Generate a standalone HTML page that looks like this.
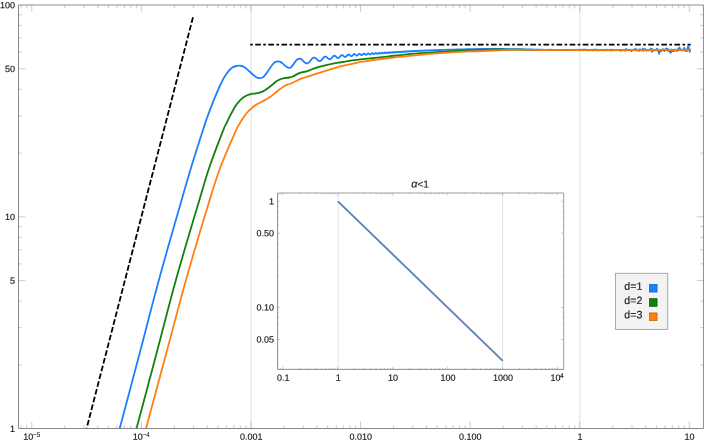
<!DOCTYPE html>
<html><head><meta charset="utf-8"><title>plot</title>
<style>html,body{margin:0;padding:0;background:#fff}body{width:706px;height:442px;overflow:hidden;font-family:"Liberation Sans",sans-serif}</style>
</head><body>
<svg width="706" height="442" viewBox="0 0 706 442" style="display:block;will-change:transform">
<rect width="706" height="442" fill="#fff"/>
<defs><linearGradient id="og" gradientUnits="userSpaceOnUse" x1="400" y1="0" x2="520" y2="0"><stop offset="0" stop-color="#ff8010"/><stop offset="1" stop-color="#e87d0c"/></linearGradient><clipPath id="cm"><rect x="18.50" y="5.00" width="684.95" height="423.50"/></clipPath></defs>
<line x1="251.15" y1="5.00" x2="251.15" y2="428.50" stroke="#d9d9d9" stroke-width="0.8"/>
<line x1="579.85" y1="5.00" x2="579.85" y2="428.50" stroke="#d9d9d9" stroke-width="0.8"/>
<g clip-path="url(#cm)" fill="none" stroke-linejoin="round">
<path d="M119.70 428.50 C122.95 416.25 132.67 379.75 139.20 355.00 C145.73 330.25 152.07 305.00 158.90 280.00 C165.73 255.00 174.83 223.75 180.20 205.00 C185.57 186.25 187.30 180.00 191.10 167.50 C194.90 155.00 200.35 138.27 203.00 130.00 C205.65 121.73 205.48 122.18 207.00 117.90 C208.52 113.62 210.47 108.47 212.10 104.30 C213.73 100.13 215.52 95.95 216.80 92.90 C218.08 89.85 218.73 88.30 219.80 86.00 C220.87 83.70 222.05 81.17 223.20 79.10 C224.35 77.03 225.55 75.22 226.70 73.60 C227.85 71.98 228.97 70.52 230.10 69.40 C231.23 68.28 232.35 67.48 233.50 66.90 C234.65 66.32 236.07 66.10 237.00 65.90 C237.93 65.70 238.25 65.65 239.10 65.70 C239.95 65.75 241.02 65.80 242.10 66.20 C243.18 66.60 244.45 67.30 245.60 68.10 C246.75 68.90 247.85 69.97 249.00 71.00 C250.15 72.03 251.35 73.32 252.50 74.30 C253.65 75.28 255.05 76.33 255.90 76.90 C256.75 77.47 256.88 77.48 257.60 77.70 C258.32 77.92 259.27 78.30 260.20 78.20 C261.13 78.10 262.20 77.87 263.20 77.10 C264.20 76.33 265.20 74.90 266.20 73.60 C267.20 72.30 268.20 70.73 269.20 69.30 C270.20 67.87 271.20 66.20 272.20 65.00 C273.20 63.80 274.23 62.72 275.20 62.10 C276.17 61.48 277.07 61.30 278.00 61.30 C278.93 61.30 279.83 61.55 280.80 62.10 C281.77 62.65 282.80 63.78 283.80 64.60 C284.80 65.42 285.90 66.47 286.80 67.00 C287.70 67.53 288.42 67.83 289.20 67.80 C289.98 67.77 290.68 67.55 291.50 66.80 C292.32 66.05 293.23 64.45 294.10 63.30 C294.97 62.15 295.83 60.68 296.70 59.90 C297.57 59.12 298.87 58.82 299.30 58.60 L299.50 58.59 L299.70 58.59 L299.90 58.62 L300.10 58.66 L300.30 58.71 L300.50 58.79 L300.70 58.88 L300.90 58.99 L301.10 59.11 L301.30 59.24 L301.50 59.39 L301.70 59.55 L301.90 59.72 L302.10 59.89 L302.30 60.08 L302.50 60.27 L302.70 60.47 L302.90 60.68 L303.10 60.88 L303.30 61.09 L303.50 61.29 L303.70 61.49 L303.90 61.69 L304.10 61.89 L304.30 62.08 L304.50 62.26 L304.70 62.43 L304.90 62.59 L305.10 62.73 L305.30 62.87 L305.50 62.99 L305.70 63.09 L305.90 63.18 L306.10 63.25 L306.30 63.30 L306.50 63.34 L306.70 63.36 L306.90 63.35 L307.10 63.33 L307.30 63.29 L307.50 63.23 L307.70 63.15 L307.90 63.06 L308.10 62.94 L308.30 62.81 L308.50 62.66 L308.70 62.50 L308.90 62.32 L309.10 62.13 L309.30 61.93 L309.50 61.71 L309.70 61.49 L309.90 61.26 L310.10 61.02 L310.30 60.78 L310.50 60.54 L310.70 60.29 L310.90 60.05 L311.10 59.81 L311.30 59.57 L311.50 59.35 L311.70 59.13 L311.90 58.92 L312.10 58.72 L312.30 58.53 L312.50 58.36 L312.70 58.21 L312.90 58.07 L313.10 57.95 L313.30 57.85 L313.50 57.77 L313.70 57.72 L313.90 57.68 L314.10 57.66 L314.30 57.67 L314.50 57.70 L314.70 57.75 L314.90 57.81 L315.10 57.90 L315.30 58.01 L315.50 58.13 L315.70 58.27 L315.90 58.43 L316.10 58.59 L316.30 58.77 L316.50 58.95 L316.70 59.14 L316.90 59.34 L317.10 59.53 L317.30 59.73 L317.50 59.92 L317.70 60.10 L317.90 60.28 L318.10 60.44 L318.30 60.59 L318.50 60.72 L318.70 60.84 L318.90 60.94 L319.10 61.01 L319.30 61.07 L319.50 61.10 L319.70 61.10 L319.90 61.08 L320.10 61.04 L320.30 60.97 L320.50 60.87 L320.70 60.75 L320.90 60.61 L321.10 60.45 L321.30 60.26 L321.50 60.06 L321.70 59.85 L321.90 59.62 L322.10 59.38 L322.30 59.13 L322.50 58.88 L322.70 58.63 L322.90 58.38 L323.10 58.14 L323.30 57.91 L323.50 57.68 L323.70 57.47 L323.90 57.28 L324.10 57.11 L324.30 56.96 L324.50 56.83 L324.70 56.73 L324.90 56.66 L325.10 56.61 L325.30 56.59 L325.50 56.60 L325.70 56.64 L325.90 56.70 L326.10 56.78 L326.30 56.89 L326.50 57.02 L326.70 57.17 L326.90 57.33 L327.10 57.50 L327.30 57.69 L327.50 57.87 L327.70 58.06 L327.90 58.25 L328.10 58.43 L328.30 58.60 L328.50 58.75 L328.70 58.89 L328.90 59.01 L329.10 59.11 L329.30 59.18 L329.50 59.23 L329.70 59.24 L329.90 59.23 L330.10 59.19 L330.30 59.12 L330.50 59.02 L330.70 58.89 L330.90 58.74 L331.10 58.57 L331.30 58.37 L331.50 58.16 L331.70 57.94 L331.90 57.70 L332.10 57.46 L332.30 57.22 L332.50 56.99 L332.70 56.76 L332.90 56.55 L333.10 56.35 L333.30 56.18 L333.50 56.02 L333.70 55.90 L333.90 55.81 L334.10 55.75 L334.30 55.72 L334.50 55.72 L334.70 55.76 L334.90 55.83 L335.10 55.93 L335.30 56.05 L335.50 56.20 L335.70 56.37 L335.90 56.55 L336.10 56.74 L336.30 56.94 L336.50 57.14 L336.70 57.32 L336.90 57.50 L337.10 57.66 L337.30 57.79 L337.50 57.90 L337.70 57.98 L337.90 58.03 L338.10 58.04 L338.30 58.01 L338.50 57.95 L338.70 57.85 L338.90 57.73 L339.10 57.57 L339.30 57.38 L339.50 57.18 L339.70 56.95 L339.90 56.72 L340.10 56.48 L340.30 56.25 L340.50 56.02 L340.70 55.81 L340.90 55.62 L341.10 55.45 L341.30 55.31 L341.50 55.21 L341.70 55.14 L341.90 55.11 L342.10 55.12 L342.30 55.16 L342.50 55.24 L342.70 55.34 L342.90 55.48 L343.10 55.64 L343.30 55.81 L343.50 56.00 L343.70 56.18 L343.90 56.36 L344.10 56.53 L344.30 56.69 L344.50 56.81 L344.70 56.91 L344.90 56.97 L345.10 57.00 L345.30 56.99 L345.50 56.93 L345.70 56.84 L345.90 56.71 L346.10 56.54 L346.30 56.35 L346.50 56.14 L346.70 55.91 L346.90 55.68 L347.10 55.45 L347.30 55.22 L347.50 55.02 L347.70 54.84 L347.90 54.70 L348.10 54.59 L348.30 54.52 L348.50 54.49 L348.70 54.51 L348.90 54.57 L349.10 54.67 L349.30 54.80 L349.50 54.96 L349.70 55.14 L349.90 55.33 L350.10 55.52 L350.30 55.70 L350.50 55.87 L350.70 56.01 L350.90 56.11 L351.10 56.18 L351.30 56.21 L351.50 56.18 L351.70 56.12 L351.90 56.00 L352.10 55.85 L352.30 55.67 L352.50 55.46 L352.70 55.24 L352.90 55.00 L353.10 54.78 L353.30 54.57 L353.50 54.38 L353.70 54.23 L353.90 54.12 L354.10 54.06 L354.30 54.05 L354.50 54.09 L354.70 54.17 L354.90 54.30 L355.10 54.45 L355.30 54.64 L355.50 54.84 L355.70 55.03 L355.90 55.22 L356.10 55.39 L356.30 55.52 L356.50 55.61 L356.70 55.65 L356.90 55.64 L357.10 55.58 L357.30 55.47 L357.50 55.31 L357.70 55.12 L357.90 54.91 L358.10 54.69 L358.30 54.47 L358.50 54.26 L358.70 54.09 L358.90 53.94 L359.10 53.85 L359.30 53.80 L359.50 53.81 L359.70 53.86 L359.90 53.97 L360.10 54.11 L360.30 54.28 L360.50 54.46 L360.70 54.64 L360.90 54.81 L361.10 54.96 L361.30 55.07 L361.50 55.14 L361.70 55.15 L361.90 55.11 L362.10 55.02 L362.30 54.89 L362.50 54.72 L362.70 54.53 L362.90 54.32 L363.10 54.12 L363.30 53.94 L363.50 53.79 L363.70 53.68 L363.90 53.62 L364.10 53.61 L364.30 53.66 L364.50 53.76 L364.70 53.90 L364.90 54.06 L365.10 54.24 L365.30 54.41 L365.50 54.57 L365.70 54.69 L365.90 54.77 L366.10 54.79 L366.30 54.76 L366.50 54.68 L366.70 54.54 L366.90 54.36 L367.10 54.17 L367.30 53.96 L367.50 53.77 L367.70 53.60 L367.90 53.47 L368.10 53.40 L368.30 53.39 L368.50 53.43 L368.70 53.53 L368.90 53.67 L369.10 53.84 L369.30 54.02 L369.50 54.19 L369.70 54.33 L369.90 54.43 L370.10 54.48 L370.30 54.46 L370.50 54.38 L370.70 54.24 L370.90 54.07 L371.10 53.87 L371.30 53.66 L371.50 53.47 L371.70 53.31 L371.90 53.21 L372.10 53.17 L372.30 53.19 L372.50 53.28 L372.70 53.41 L372.90 53.58 L373.10 53.76 L373.30 53.93 L373.50 54.07 L373.70 54.16 L373.90 54.19 L374.10 54.15 L374.30 54.04 L374.50 53.88 L374.70 53.68 L374.90 53.48 L375.10 53.28 L375.30 53.12 L375.50 53.01 L375.70 52.97 L375.90 53.00 L376.10 53.09 L376.30 53.24 L376.50 53.42 L376.70 53.60 L376.90 53.76 L377.10 53.87 L377.30 53.92 L377.50 53.90 L377.70 53.81 L377.90 53.65 L378.10 53.46 L378.30 53.25 L378.50 53.05 L378.70 52.90 L378.90 52.80 L379.10 52.78 L379.30 52.84 L379.50 52.96 L379.70 53.13 L379.90 53.31 L380.10 53.48 L380.30 53.61 L380.50 53.68 L380.70 53.66 L380.90 53.57 L381.10 53.42 L381.30 53.22 L381.50 53.01 L381.70 52.82 L381.90 52.68 L382.10 52.61 L382.30 52.62 L382.50 52.71 L382.70 52.86 L382.90 53.04 L383.10 53.22 L383.30 53.37 L383.50 53.45 L383.70 53.44 L383.90 53.36 L384.10 53.20 L384.30 53.00 L384.50 52.79 L384.70 52.61 L384.90 52.49 L385.10 52.45 L385.30 52.49 L385.50 52.61 L385.70 52.78 L385.90 52.96 L386.10 53.12 L386.30 53.22 L386.50 53.24 L386.70 53.16 L386.90 53.01 L387.10 52.82 L387.30 52.61 L387.50 52.43 L387.70 52.32 L387.90 52.30 L388.10 52.37 L388.30 52.50 L388.50 52.68 L388.70 52.86 L388.90 52.99 L389.10 53.04 L389.30 53.00 L389.50 52.88 L389.70 52.69 L389.90 52.49 L390.10 52.30 L390.30 52.19 L390.50 52.16 L390.70 52.22 L390.90 52.36 L391.10 52.54 L391.30 52.71 L391.50 52.82 L391.70 52.85 L391.90 52.78 L392.10 52.63 L392.30 52.43 L392.50 52.24 L392.70 52.09 L392.90 52.03 L393.10 52.06 L393.30 52.18 L393.50 52.35 L393.70 52.52 L393.90 52.64 L394.10 52.68 L394.30 52.61 L394.50 52.46 L394.70 52.26 L394.90 52.07 L395.10 51.94 L395.30 51.90 L395.50 51.96 L395.70 52.10 L395.90 52.27 L396.10 52.42 L396.30 52.50 L396.50 52.48 L396.70 52.37 L396.90 52.18 L397.10 51.99 L397.30 51.84 L397.50 51.78 L397.70 51.82 L397.90 51.95 L398.10 52.12 L398.30 52.27 L398.50 52.34 L398.70 52.32 L398.90 52.19 L399.10 52.01 L399.30 51.83 L399.50 51.70 L399.70 51.67 L399.90 51.74 L400.10 51.89 L400.30 52.05 L400.50 52.17 L400.70 52.19 L400.90 52.11 L401.10 51.94 L401.30 51.76 L401.50 51.61 L401.70 51.56 L401.90 51.61 L402.10 51.74 L402.30 51.90 L402.50 52.02 L402.70 52.05 L402.90 51.96 L403.10 51.80 L403.30 51.62 L403.50 51.49 L403.70 51.45 L403.90 51.53 L404.10 51.67 L404.30 51.82 L404.50 51.90 L404.70 51.89 L404.90 51.77 L405.10 51.59 L405.30 51.44 L405.50 51.36 L405.70 51.38 L405.90 51.50 L406.10 51.65 L406.30 51.76 L406.50 51.77 L406.70 51.67 L406.90 51.51 L407.10 51.35 L407.30 51.26 L407.50 51.28 L407.70 51.39 L407.90 51.54 L408.10 51.63 L408.30 51.63 L408.50 51.53 L408.70 51.36 L408.90 51.22 L409.10 51.16 L409.30 51.21 L409.50 51.34 L409.70 51.46 L409.90 51.52 L410.10 51.47 L410.30 51.34 L410.50 51.18 L410.70 51.09 L410.90 51.09 L411.10 51.19 L411.30 51.31 L411.50 51.39 L411.70 51.38 L411.90 51.26 L412.10 51.11 L412.30 51.01 L412.50 51.00 L412.70 51.08 L412.90 51.20 L413.10 51.28 L413.30 51.26 L413.50 51.15 L413.70 51.01 L413.90 50.92 L414.10 50.92 L414.30 51.01 L414.50 51.12 L414.70 51.17 L414.90 51.13 L415.10 51.01 L415.30 50.89 L415.50 50.83 L415.70 50.87 L415.90 50.98 L416.10 51.08 L416.30 51.09 L416.50 51.00 L416.70 50.88 L416.90 50.79 L417.10 50.79 L417.30 50.89 L417.50 50.99 L417.70 51.03 L417.90 50.97 L418.10 50.84 L418.30 50.74 L418.50 50.73 L418.70 50.82 L418.90 50.93 L419.10 50.97 L419.30 50.91 L419.50 50.79 L419.70 50.69 L419.90 50.68 L420.10 50.77 L420.30 50.88 L420.50 50.91 L420.70 50.84 L420.90 50.71 L421.10 50.63 L421.30 50.65 L421.50 50.76 L421.70 50.85 L421.90 50.84 L422.10 50.74 L422.30 50.61 L422.50 50.57 L422.70 50.64 L422.90 50.76 L423.10 50.80 L423.30 50.74 L423.50 50.61 L423.70 50.53 L423.90 50.56 L424.10 50.67 L424.30 50.75 L424.50 50.71 L424.70 50.59 L424.90 50.49 L425.10 50.50 L425.30 50.60 L425.50 50.69 L425.70 50.67 L425.90 50.56 L426.10 50.45 L426.30 50.45 L426.50 50.55 L426.70 50.64 L426.90 50.62 L427.10 50.50 L427.30 50.40 L427.50 50.41 L427.70 50.51 L427.90 50.59 L428.10 50.56 L428.30 50.43 L428.50 50.35 L428.70 50.39 L428.90 50.50 L429.10 50.55 L429.30 50.47 L429.50 50.35 L429.70 50.30 L429.90 50.38 L430.10 50.49 L430.30 50.48 L430.50 50.37 L430.70 50.27 L430.90 50.29 L431.10 50.40 L431.30 50.46 L431.50 50.38 L431.70 50.26 L431.90 50.23 L432.10 50.32 L432.30 50.41 L432.50 50.37 L432.70 50.24 L432.90 50.18 L433.10 50.25 L433.30 50.35 L433.50 50.34 L433.70 50.23 L433.90 50.14 L434.10 50.20 L434.30 50.30 L434.50 50.31 L434.70 50.19 L434.90 50.11 L435.10 50.15 L435.30 50.26 L435.50 50.26 L435.70 50.15 L435.90 50.07 L436.10 50.13 L436.30 50.23 L436.50 50.21 L436.70 50.09 L436.90 50.03 L437.10 50.11 L437.30 50.20 L437.50 50.15 L437.70 50.03 L437.90 50.00 L438.10 50.10 L438.30 50.16 L438.50 50.07 L438.70 49.97 L438.90 50.00 L439.10 50.10 L439.30 50.10 L439.50 49.98 L439.70 49.93 L439.90 50.01 L440.10 50.09 L440.70 49.93 L441.30 49.91 L441.90 50.03 L442.50 49.92 L443.10 49.83 L443.70 49.93 L444.30 49.94 L444.90 49.80 L445.50 49.78 L446.10 49.87 L446.70 49.86 L447.30 49.75 L447.90 49.69 L448.50 49.74 L449.10 49.79 L449.70 49.76 L450.30 49.67 L450.90 49.61 L451.50 49.60 L452.10 49.64 L452.70 49.67 L453.30 49.67 L453.90 49.64 L454.50 49.58 L455.10 49.53 L455.70 49.49 L456.30 49.45 L456.90 49.43 L457.50 49.41 L458.10 49.40 L458.70 49.38 L459.30 49.37 L459.90 49.35 L460.50 49.33 L461.10 49.31 L461.70 49.30 L462.30 49.29 L462.90 49.30 L463.50 49.31 L464.10 49.32 L464.70 49.31 L465.30 49.27 L465.90 49.21 L466.50 49.16 L467.10 49.15 L467.70 49.19 L468.30 49.20 L468.90 49.14 L469.50 49.07 L470.10 49.09 L470.70 49.14 L471.30 49.08 L471.90 49.05 L472.50 49.12 L473.10 49.08 L473.70 49.03 L474.30 49.11 L474.90 49.04 L475.50 49.05 L476.10 49.07 L476.70 49.01 L477.30 49.08 L477.90 49.00 L478.50 49.07 L479.10 48.99 L479.70 49.06 L480.30 48.99 L480.90 49.03 L481.50 49.01 L482.10 48.98 L482.70 49.03 L483.30 48.98 L483.90 48.97 L484.50 49.02 L485.10 48.98 L485.70 48.94 L486.30 48.97 L486.90 49.00 L487.50 48.98 L488.10 48.94 L488.70 48.92 L489.30 48.92 L489.90 48.93 L490.50 48.94 L491.10 48.95 L491.70 48.95 L492.30 48.94 L492.90 48.94 L493.50 48.92 L494.10 48.91 L494.70 48.88 L495.30 48.88 L495.90 48.89 L496.50 48.93 L497.10 48.95 L497.70 48.93 L498.30 48.92 L498.90 48.96 L499.50 48.98 L500.10 48.94 L500.70 48.99 L501.30 48.98 L501.90 48.99 L502.50 49.01 L503.10 49.00 L503.70 49.02 L504.30 49.03 L504.90 49.01 L505.50 49.06 L506.10 49.04 L506.70 49.04 L507.30 49.08 L507.90 49.09 L508.50 49.07 L509.10 49.07 L509.70 49.08 L510.30 49.09 L510.90 49.11 L511.50 49.12 L512.10 49.12 L512.70 49.12 L513.30 49.13 L513.90 49.14 L514.50 49.16 L515.10 49.19 L515.70 49.17 L516.30 49.17 L516.90 49.21 L517.50 49.19 L518.10 49.21 L518.70 49.22 L519.30 49.22 L519.90 49.23 L520.50 49.25 L521.10 49.23 L521.70 49.26 L522.30 49.28 L522.90 49.28 L523.50 49.27 L524.10 49.27 L524.70 49.28 L525.30 49.29 L525.90 49.31 L526.50 49.33 L527.10 49.36 L527.70 49.39 L528.30 49.40 L528.90 49.40 L529.50 49.44 L530.10 49.45 L530.70 49.47 L531.30 49.49 L531.90 49.51 L532.50 49.51 L533.10 49.55 L533.70 49.57 L534.30 49.58 L534.90 49.59 L535.50 49.60 L536.10 49.62 L536.70 49.65 L537.30 49.67 L537.90 49.70 L538.50 49.70 L539.10 49.71 L539.70 49.75 L540.30 49.71 L540.90 49.86 L541.50 49.75 L542.10 49.76 L542.70 49.70 L543.30 49.82 L543.90 50.04 L544.50 49.95 L545.10 50.06 L545.70 49.95 L546.30 49.97 L546.90 49.93 L547.50 49.65 L548.10 50.04 L548.70 49.99 L549.30 49.98 L549.90 49.66 L550.50 49.65 L551.10 49.77 L551.70 49.84 L552.30 49.96 L552.90 49.92 L553.50 50.01 L554.10 49.82 L554.70 49.97 L555.30 50.00 L555.90 49.83 L556.50 50.20 L557.10 50.03 L557.70 50.14 L558.30 49.84 L558.90 49.82 L559.50 49.88 L560.10 49.92 L560.70 50.06 L561.30 49.98 L561.90 49.88 L562.50 49.79 L563.10 49.86 L563.70 50.16 L564.30 49.81 L564.90 50.00 L565.50 50.04 L566.10 49.69 L566.70 49.98 L567.30 50.19 L567.90 49.60 L568.50 49.91 L569.10 49.95 L569.70 49.81 L570.30 50.06 L570.90 49.97 L571.50 49.70 L572.10 50.13 L572.70 50.11 L573.30 50.17 L573.90 50.27 L574.50 50.05 L575.10 50.01 L575.70 49.73 L576.30 50.12 L576.90 49.86 L577.50 49.90 L578.10 49.73 L578.70 49.80 L579.30 49.88 L579.90 50.27 L580.50 49.56 L581.10 49.68 L581.70 50.05 L582.30 50.31 L582.90 50.13 L583.50 49.58 L584.10 49.43 L584.70 50.08 L585.30 49.83 L585.90 49.74 L586.50 50.23 L587.10 50.26 L587.70 50.03 L588.30 50.06 L588.90 50.10 L589.50 50.39 L590.10 50.15 L590.70 50.13 L591.30 50.14 L591.90 49.60 L592.50 50.33 L593.10 50.24 L593.70 50.14 L594.30 49.48 L594.90 49.83 L595.50 50.22 L596.10 49.51 L596.70 49.95 L597.30 50.28 L597.90 49.63 L598.50 50.45 L599.10 50.16 L599.70 49.96 L600.30 50.09 L600.90 50.19 L601.50 50.03 L602.10 50.34 L602.70 49.80 L603.30 49.87 L603.90 50.32 L604.50 50.01 L605.10 49.72 L605.70 50.30 L606.30 50.47 L606.90 49.86 L607.50 49.55 L608.10 49.95 L608.70 49.95 L609.30 49.90 L609.90 50.47 L610.50 49.65 L611.10 50.43 L611.70 49.56 L612.30 49.72 L612.90 50.22 L613.50 50.40 L614.10 50.31 L614.70 50.13 L615.30 50.05 L615.90 50.06 L616.50 50.22 L617.10 49.93 L617.70 50.10 L618.30 50.22 L618.90 50.00 L619.50 50.30 L620.10 50.22 L620.70 50.80 L621.30 50.13 L621.90 49.83 L622.50 49.85 L623.10 50.00 L623.70 50.38 L624.30 49.86 L624.90 50.16 L625.50 50.79 L626.10 48.89 L626.70 49.51 L627.30 50.11 L627.90 50.18 L628.50 50.11 L629.10 49.80 L629.70 50.30 L630.30 50.13 L630.90 49.76 L631.50 51.14 L632.10 50.17 L632.70 49.74 L633.30 49.95 L633.90 49.89 L634.50 49.97 L635.10 48.65 L635.70 49.76 L636.30 50.51 L636.90 49.41 L637.50 49.97 L638.10 50.49 L638.70 50.45 L639.30 50.79 L639.90 49.10 L640.50 49.81 L641.10 49.81 L641.70 50.34 L642.30 50.60 L642.90 48.51 L643.50 50.61 L644.10 49.18 L644.70 50.39 L645.30 49.14 L645.90 50.10 L646.50 50.70 L647.10 49.91 L647.70 50.11 L648.30 50.48 L648.90 50.09 L649.50 49.95 L650.10 49.94 L650.70 48.65 L651.30 48.82 L651.90 51.72 L652.50 49.27 L653.10 50.58 L653.70 49.83 L654.30 50.09 L654.90 50.46 L655.50 50.15 L656.10 50.43 L656.70 48.98 L657.30 48.98 L657.90 50.42 L658.50 51.64 L659.10 53.89 L659.70 51.27 L660.30 50.89 L660.90 50.52 L661.50 51.03 L662.10 49.34 L662.70 50.00 L663.30 49.20 L663.90 50.54 L664.50 51.11 L665.10 49.38 L665.70 49.99 L666.30 48.49 L666.90 48.78 L667.50 48.62 L668.10 50.98 L668.70 49.93 L669.30 49.58 L669.90 51.48 L670.50 52.69 L671.10 52.25 L671.70 49.29 L672.30 50.80 L672.90 51.04 L673.50 51.02 L674.10 49.87 L674.70 49.48 L675.30 50.71 L675.90 50.08 L676.50 50.09 L677.10 51.00 L677.70 49.82 L678.30 48.39 L678.90 49.73 L679.50 47.70 L680.10 48.57 L680.70 49.22 L681.30 49.57 L681.90 49.99 L682.50 50.58 L683.10 50.05 L683.70 49.83 L684.30 47.76 L684.90 49.63 L685.50 51.04 L686.10 51.13 L686.70 49.53 L687.30 50.62 L687.90 46.79 L688.50 46.54 L689.10 48.93 L689.70 51.85 L690.30 49.14" stroke="#1a80ff" stroke-width="1.8"/>
<path d="M136.50 428.50 C139.77 416.25 149.53 379.75 156.10 355.00 C162.67 330.25 168.93 305.00 175.90 280.00 C182.87 255.00 192.33 223.75 197.90 205.00 C203.47 186.25 205.07 179.99 209.30 167.50 C213.53 155.01 220.45 137.40 223.30 130.06 C226.15 122.71 225.37 125.63 226.40 123.45 C227.43 121.27 228.42 119.12 229.50 116.95 C230.58 114.78 231.77 112.47 232.90 110.45 C234.03 108.43 235.15 106.50 236.30 104.85 C237.45 103.20 238.65 101.78 239.80 100.55 C240.95 99.32 242.05 98.30 243.20 97.45 C244.35 96.60 245.55 95.97 246.70 95.45 C247.85 94.93 248.82 94.67 250.10 94.35 C251.38 94.03 252.97 93.80 254.40 93.55 C255.83 93.30 257.27 93.21 258.70 92.85 C260.13 92.49 261.53 92.11 263.00 91.37 C264.47 90.62 266.00 89.46 267.50 88.40 C269.00 87.34 270.50 86.18 272.00 85.00 C273.50 83.82 275.03 82.30 276.50 81.30 C277.97 80.30 279.37 79.55 280.80 79.00 C282.23 78.45 283.67 78.25 285.10 78.00 C286.53 77.75 288.12 77.75 289.40 77.50 C290.68 77.25 291.65 76.98 292.80 76.50 C293.95 76.02 295.15 75.20 296.30 74.60 C297.45 74.00 298.55 73.33 299.70 72.90 C300.85 72.47 302.05 72.25 303.20 72.00 C304.35 71.75 305.43 71.73 306.60 71.40 C307.77 71.07 308.75 70.55 310.20 70.00 C311.65 69.45 313.30 68.73 315.30 68.10 C317.30 67.47 319.62 66.87 322.20 66.20 C324.78 65.53 327.93 64.72 330.80 64.10 C333.67 63.48 336.53 63.00 339.40 62.50 C342.27 62.00 345.13 61.53 348.00 61.10 C350.87 60.67 353.77 60.27 356.60 59.90 C359.43 59.53 360.27 59.42 365.00 58.90 C369.73 58.38 376.67 57.68 385.00 56.80 C393.33 55.92 405.83 54.43 415.00 53.60 C424.17 52.77 430.83 52.35 440.00 51.80 C449.17 51.25 460.83 50.69 470.00 50.30 C479.17 49.91 486.67 49.55 495.00 49.45 C503.33 49.35 509.17 49.61 520.00 49.70 C530.83 49.79 531.57 49.95 560.00 50.00 C588.43 50.05 668.83 50.00 690.60 50.00" stroke="#14800e" stroke-width="1.8"/>
<path d="M146.00 428.50 C149.30 416.25 159.13 379.75 165.80 355.00 C172.47 330.25 178.95 305.00 186.00 280.00 C193.05 255.00 202.38 223.75 208.10 205.00 C213.82 186.25 215.62 179.99 220.30 167.50 C224.98 155.01 232.95 137.38 236.20 130.03 C239.45 122.68 238.70 125.31 239.80 123.40 C240.90 121.49 241.80 120.12 242.80 118.60 C243.80 117.08 244.73 115.67 245.80 114.30 C246.87 112.93 248.05 111.57 249.20 110.40 C250.35 109.23 251.55 108.23 252.70 107.30 C253.85 106.37 254.95 105.52 256.10 104.80 C257.25 104.08 258.45 103.62 259.60 103.00 C260.75 102.38 261.87 101.72 263.00 101.10 C264.13 100.48 265.25 99.97 266.40 99.30 C267.55 98.63 268.75 97.90 269.90 97.10 C271.05 96.30 272.15 95.40 273.30 94.50 C274.45 93.60 275.62 92.65 276.80 91.70 C277.98 90.75 279.02 89.83 280.40 88.80 C281.78 87.77 283.60 86.30 285.10 85.50 C286.60 84.70 287.97 84.55 289.40 84.00 C290.83 83.45 292.27 82.85 293.70 82.20 C295.13 81.55 296.57 80.77 298.00 80.10 C299.43 79.43 301.13 78.63 302.30 78.20 C303.47 77.77 303.12 78.08 305.00 77.50 C306.88 76.92 310.73 75.65 313.60 74.70 C316.47 73.75 319.33 72.73 322.20 71.80 C325.07 70.87 327.93 69.95 330.80 69.10 C333.67 68.25 336.53 67.45 339.40 66.70 C342.27 65.95 345.13 65.25 348.00 64.60 C350.87 63.95 353.77 63.35 356.60 62.80 C359.43 62.25 360.27 62.02 365.00 61.30 C369.73 60.58 376.67 59.50 385.00 58.50 C393.33 57.50 405.83 56.18 415.00 55.30 C424.17 54.42 430.83 53.85 440.00 53.20 C449.17 52.55 460.83 51.85 470.00 51.40 C479.17 50.95 486.67 50.79 495.00 50.50 C503.33 50.21 512.50 49.73 520.00 49.65 C527.50 49.57 530.00 49.94 540.00 50.00 C550.00 50.06 554.90 50.00 580.00 50.00 C605.10 50.00 672.17 50.00 690.60 50.00" stroke="url(#og)" stroke-width="1.8"/>
<line x1="193.00" y1="17.20" x2="86.60" y2="428.50" stroke="#000" stroke-width="1.8" stroke-dasharray="5.8 2.2"/>
<line x1="250.2" y1="44.6" x2="690.7" y2="44.6" stroke="#000" stroke-width="1.9" stroke-dasharray="2.6 2.4 5.7 2.4"/>
</g>
<path d="M21.13 428.50 v-3.40 M21.13 5.00 v3.40 M26.73 428.50 v-3.40 M26.73 5.00 v3.40 M31.75 428.50 v-6.90 M31.75 5.00 v6.90 M64.74 428.50 v-3.40 M64.74 5.00 v3.40 M84.04 428.50 v-3.40 M84.04 5.00 v3.40 M97.74 428.50 v-3.40 M97.74 5.00 v3.40 M108.36 428.50 v-3.40 M108.36 5.00 v3.40 M117.04 428.50 v-3.40 M117.04 5.00 v3.40 M124.37 428.50 v-3.40 M124.37 5.00 v3.40 M130.73 428.50 v-3.40 M130.73 5.00 v3.40 M136.33 428.50 v-3.40 M136.33 5.00 v3.40 M141.35 428.50 v-6.90 M141.35 5.00 v6.90 M174.34 428.50 v-3.40 M174.34 5.00 v3.40 M193.64 428.50 v-3.40 M193.64 5.00 v3.40 M207.34 428.50 v-3.40 M207.34 5.00 v3.40 M217.96 428.50 v-3.40 M217.96 5.00 v3.40 M226.64 428.50 v-3.40 M226.64 5.00 v3.40 M233.97 428.50 v-3.40 M233.97 5.00 v3.40 M240.33 428.50 v-3.40 M240.33 5.00 v3.40 M245.93 428.50 v-3.40 M245.93 5.00 v3.40 M250.95 428.50 v-6.90 M250.95 5.00 v6.90 M283.94 428.50 v-3.40 M283.94 5.00 v3.40 M303.24 428.50 v-3.40 M303.24 5.00 v3.40 M316.94 428.50 v-3.40 M316.94 5.00 v3.40 M327.56 428.50 v-3.40 M327.56 5.00 v3.40 M336.24 428.50 v-3.40 M336.24 5.00 v3.40 M343.57 428.50 v-3.40 M343.57 5.00 v3.40 M349.93 428.50 v-3.40 M349.93 5.00 v3.40 M355.53 428.50 v-3.40 M355.53 5.00 v3.40 M360.55 428.50 v-6.90 M360.55 5.00 v6.90 M393.54 428.50 v-3.40 M393.54 5.00 v3.40 M412.84 428.50 v-3.40 M412.84 5.00 v3.40 M426.54 428.50 v-3.40 M426.54 5.00 v3.40 M437.16 428.50 v-3.40 M437.16 5.00 v3.40 M445.84 428.50 v-3.40 M445.84 5.00 v3.40 M453.17 428.50 v-3.40 M453.17 5.00 v3.40 M459.53 428.50 v-3.40 M459.53 5.00 v3.40 M465.13 428.50 v-3.40 M465.13 5.00 v3.40 M470.15 428.50 v-6.90 M470.15 5.00 v6.90 M503.14 428.50 v-3.40 M503.14 5.00 v3.40 M522.44 428.50 v-3.40 M522.44 5.00 v3.40 M536.14 428.50 v-3.40 M536.14 5.00 v3.40 M546.76 428.50 v-3.40 M546.76 5.00 v3.40 M555.44 428.50 v-3.40 M555.44 5.00 v3.40 M562.77 428.50 v-3.40 M562.77 5.00 v3.40 M569.13 428.50 v-3.40 M569.13 5.00 v3.40 M574.73 428.50 v-3.40 M574.73 5.00 v3.40 M579.75 428.50 v-6.90 M579.75 5.00 v6.90 M612.74 428.50 v-3.40 M612.74 5.00 v3.40 M632.04 428.50 v-3.40 M632.04 5.00 v3.40 M645.74 428.50 v-3.40 M645.74 5.00 v3.40 M656.36 428.50 v-3.40 M656.36 5.00 v3.40 M665.04 428.50 v-3.40 M665.04 5.00 v3.40 M672.37 428.50 v-3.40 M672.37 5.00 v3.40 M678.73 428.50 v-3.40 M678.73 5.00 v3.40 M684.33 428.50 v-3.40 M684.33 5.00 v3.40 M689.35 428.50 v-6.90 M689.35 5.00 v6.90 M18.50 364.93 h3.40 M703.45 364.93 h-3.40 M18.50 327.62 h3.40 M703.45 327.62 h-3.40 M18.50 301.15 h3.40 M703.45 301.15 h-3.40 M18.50 280.62 h6.90 M703.45 280.62 h-6.90 M18.50 263.85 h3.40 M703.45 263.85 h-3.40 M18.50 249.67 h3.40 M703.45 249.67 h-3.40 M18.50 237.38 h3.40 M703.45 237.38 h-3.40 M18.50 226.54 h3.40 M703.45 226.54 h-3.40 M18.50 216.85 h6.90 M703.45 216.85 h-6.90 M18.50 153.08 h3.40 M703.45 153.08 h-3.40 M18.50 115.77 h3.40 M703.45 115.77 h-3.40 M18.50 89.30 h3.40 M703.45 89.30 h-3.40 M18.50 68.77 h6.90 M703.45 68.77 h-6.90 M18.50 52.00 h3.40 M703.45 52.00 h-3.40 M18.50 37.82 h3.40 M703.45 37.82 h-3.40 M18.50 25.53 h3.40 M703.45 25.53 h-3.40 M18.50 14.69 h3.40 M703.45 14.69 h-3.40" stroke="#808080" stroke-width="0.4" fill="none"/>
<path d="M18.50 5.00 H703.45 V428.50" fill="none" stroke="#7a7a7a" stroke-width="0.85"/>
<path d="M18.50 5.00 V428.50 H703.45" fill="none" stroke="#686868" stroke-width="0.8"/>
<text transform="translate(15.00 8.20) rotate(0.1)" text-anchor="end" font-size="9.00" font-family="Liberation Sans, sans-serif" fill="#111" stroke="#111" stroke-width="0.13">100</text>
<text transform="translate(15.00 71.97) rotate(0.1)" text-anchor="end" font-size="9.00" font-family="Liberation Sans, sans-serif" fill="#111" stroke="#111" stroke-width="0.13">50</text>
<text transform="translate(15.00 220.05) rotate(0.1)" text-anchor="end" font-size="9.00" font-family="Liberation Sans, sans-serif" fill="#111" stroke="#111" stroke-width="0.13">10</text>
<text transform="translate(15.00 283.82) rotate(0.1)" text-anchor="end" font-size="9.00" font-family="Liberation Sans, sans-serif" fill="#111" stroke="#111" stroke-width="0.13">5</text>
<text transform="translate(15.00 431.90) rotate(0.1)" text-anchor="end" font-size="9.00" font-family="Liberation Sans, sans-serif" fill="#111" stroke="#111" stroke-width="0.13">1</text>
<text transform="translate(251.15 439.80) rotate(0.1)" text-anchor="middle" font-size="9.00" font-family="Liberation Sans, sans-serif" fill="#111" stroke="#111" stroke-width="0.13">0.001</text>
<text transform="translate(360.75 439.80) rotate(0.1)" text-anchor="middle" font-size="9.00" font-family="Liberation Sans, sans-serif" fill="#111" stroke="#111" stroke-width="0.13">0.010</text>
<text transform="translate(470.35 439.80) rotate(0.1)" text-anchor="middle" font-size="9.00" font-family="Liberation Sans, sans-serif" fill="#111" stroke="#111" stroke-width="0.13">0.100</text>
<text transform="translate(579.95 439.80) rotate(0.1)" text-anchor="middle" font-size="9.00" font-family="Liberation Sans, sans-serif" fill="#111" stroke="#111" stroke-width="0.13">1</text>
<text transform="translate(689.55 439.80) rotate(0.1)" text-anchor="middle" font-size="9.00" font-family="Liberation Sans, sans-serif" fill="#111" stroke="#111" stroke-width="0.13">10</text>
<text transform="translate(23.20 439.80) rotate(0.1)" text-anchor="start" font-size="9.00" font-family="Liberation Sans, sans-serif" fill="#111" stroke="#111" stroke-width="0.13">10<tspan dx="-0.35" dy="-2.8" font-size="7.0" letter-spacing="-0.45" stroke-width="0">−5</tspan></text>
<text transform="translate(132.80 439.80) rotate(0.1)" text-anchor="start" font-size="9.00" font-family="Liberation Sans, sans-serif" fill="#111" stroke="#111" stroke-width="0.13">10<tspan dx="-0.35" dy="-2.8" font-size="7.0" letter-spacing="-0.45" stroke-width="0">−4</tspan></text>
<rect x="277.60" y="193.00" width="286.10" height="176.35" fill="#fff"/>
<line x1="338.15" y1="193.00" x2="338.15" y2="369.35" stroke="#d9d9d9" stroke-width="0.8"/>
<line x1="502.60" y1="193.00" x2="502.60" y2="369.35" stroke="#d9d9d9" stroke-width="0.8"/>
<line x1="337.95" y1="201.30" x2="502.80" y2="360.95" stroke="#5e81b5" stroke-width="1.85"/>
<path d="M280.39 369.35 v-1.40 M280.39 193.00 v1.40 M282.90 369.35 v-2.70 M282.90 193.00 v2.70 M299.44 369.35 v-1.40 M299.44 193.00 v1.40 M309.11 369.35 v-1.40 M309.11 193.00 v1.40 M315.98 369.35 v-1.40 M315.98 193.00 v1.40 M321.30 369.35 v-1.40 M321.30 193.00 v1.40 M325.65 369.35 v-1.40 M325.65 193.00 v1.40 M329.33 369.35 v-1.40 M329.33 193.00 v1.40 M332.52 369.35 v-1.40 M332.52 193.00 v1.40 M335.33 369.35 v-1.40 M335.33 193.00 v1.40 M337.84 369.35 v-2.70 M337.84 193.00 v2.70 M354.38 369.35 v-1.40 M354.38 193.00 v1.40 M364.05 369.35 v-1.40 M364.05 193.00 v1.40 M370.92 369.35 v-1.40 M370.92 193.00 v1.40 M376.24 369.35 v-1.40 M376.24 193.00 v1.40 M380.59 369.35 v-1.40 M380.59 193.00 v1.40 M384.27 369.35 v-1.40 M384.27 193.00 v1.40 M387.46 369.35 v-1.40 M387.46 193.00 v1.40 M390.27 369.35 v-1.40 M390.27 193.00 v1.40 M392.78 369.35 v-2.70 M392.78 193.00 v2.70 M409.32 369.35 v-1.40 M409.32 193.00 v1.40 M418.99 369.35 v-1.40 M418.99 193.00 v1.40 M425.86 369.35 v-1.40 M425.86 193.00 v1.40 M431.18 369.35 v-1.40 M431.18 193.00 v1.40 M435.53 369.35 v-1.40 M435.53 193.00 v1.40 M439.21 369.35 v-1.40 M439.21 193.00 v1.40 M442.40 369.35 v-1.40 M442.40 193.00 v1.40 M445.21 369.35 v-1.40 M445.21 193.00 v1.40 M447.72 369.35 v-2.70 M447.72 193.00 v2.70 M464.26 369.35 v-1.40 M464.26 193.00 v1.40 M473.93 369.35 v-1.40 M473.93 193.00 v1.40 M480.80 369.35 v-1.40 M480.80 193.00 v1.40 M486.12 369.35 v-1.40 M486.12 193.00 v1.40 M490.47 369.35 v-1.40 M490.47 193.00 v1.40 M494.15 369.35 v-1.40 M494.15 193.00 v1.40 M497.34 369.35 v-1.40 M497.34 193.00 v1.40 M500.15 369.35 v-1.40 M500.15 193.00 v1.40 M502.66 369.35 v-2.70 M502.66 193.00 v2.70 M519.20 369.35 v-1.40 M519.20 193.00 v1.40 M528.87 369.35 v-1.40 M528.87 193.00 v1.40 M535.74 369.35 v-1.40 M535.74 193.00 v1.40 M541.06 369.35 v-1.40 M541.06 193.00 v1.40 M545.41 369.35 v-1.40 M545.41 193.00 v1.40 M549.09 369.35 v-1.40 M549.09 193.00 v1.40 M552.28 369.35 v-1.40 M552.28 193.00 v1.40 M555.09 369.35 v-1.40 M555.09 193.00 v1.40 M557.60 369.35 v-2.70 M557.60 193.00 v2.70 M277.60 363.03 h1.40 M563.70 363.03 h-1.40 M277.60 349.76 h1.40 M563.70 349.76 h-1.40 M277.60 339.47 h2.70 M563.70 339.47 h-2.70 M277.60 331.06 h1.40 M563.70 331.06 h-1.40 M277.60 323.95 h1.40 M563.70 323.95 h-1.40 M277.60 317.79 h1.40 M563.70 317.79 h-1.40 M277.60 312.36 h1.40 M563.70 312.36 h-1.40 M277.60 307.50 h2.70 M563.70 307.50 h-2.70 M277.60 275.53 h1.40 M563.70 275.53 h-1.40 M277.60 256.83 h1.40 M563.70 256.83 h-1.40 M277.60 243.56 h1.40 M563.70 243.56 h-1.40 M277.60 233.27 h2.70 M563.70 233.27 h-2.70 M277.60 224.86 h1.40 M563.70 224.86 h-1.40 M277.60 217.75 h1.40 M563.70 217.75 h-1.40 M277.60 211.59 h1.40 M563.70 211.59 h-1.40 M277.60 206.16 h1.40 M563.70 206.16 h-1.40 M277.60 201.30 h2.70 M563.70 201.30 h-2.70" stroke="#808080" stroke-width="0.4" fill="none"/>
<path d="M277.60 193.00 H563.70 V369.35" fill="none" stroke="#8c8c8c" stroke-width="0.85"/>
<path d="M277.60 193.00 V369.35 H563.70" fill="none" stroke="#6c6c6c" stroke-width="0.8"/>
<text transform="translate(274.00 204.40) rotate(0.1)" text-anchor="end" font-size="9.00" font-family="Liberation Sans, sans-serif" fill="#111" stroke="#111" stroke-width="0.13">1</text>
<text transform="translate(274.00 236.37) rotate(0.1)" text-anchor="end" font-size="9.00" font-family="Liberation Sans, sans-serif" fill="#111" stroke="#111" stroke-width="0.13">0.50</text>
<text transform="translate(274.00 310.60) rotate(0.1)" text-anchor="end" font-size="9.00" font-family="Liberation Sans, sans-serif" fill="#111" stroke="#111" stroke-width="0.13">0.10</text>
<text transform="translate(274.00 342.57) rotate(0.1)" text-anchor="end" font-size="9.00" font-family="Liberation Sans, sans-serif" fill="#111" stroke="#111" stroke-width="0.13">0.05</text>
<text transform="translate(283.20 380.70) rotate(0.1)" text-anchor="middle" font-size="9.00" font-family="Liberation Sans, sans-serif" fill="#111" stroke="#111" stroke-width="0.13">0.1</text>
<text transform="translate(338.14 380.70) rotate(0.1)" text-anchor="middle" font-size="9.00" font-family="Liberation Sans, sans-serif" fill="#111" stroke="#111" stroke-width="0.13">1</text>
<text transform="translate(393.08 380.70) rotate(0.1)" text-anchor="middle" font-size="9.00" font-family="Liberation Sans, sans-serif" fill="#111" stroke="#111" stroke-width="0.13">10</text>
<text transform="translate(448.02 380.70) rotate(0.1)" text-anchor="middle" font-size="9.00" font-family="Liberation Sans, sans-serif" fill="#111" stroke="#111" stroke-width="0.13">100</text>
<text transform="translate(502.96 380.70) rotate(0.1)" text-anchor="middle" font-size="9.00" font-family="Liberation Sans, sans-serif" fill="#111" stroke="#111" stroke-width="0.13">1000</text>
<clipPath id="ci"><rect x="500" y="365" width="63.5" height="25"/></clipPath><g clip-path="url(#ci)">
<text transform="translate(550.60 380.70) rotate(0.1)" text-anchor="start" font-size="9.00" font-family="Liberation Sans, sans-serif" fill="#111" stroke="#111" stroke-width="0.13">10<tspan dx="-0.7" dy="-2.8" font-size="7.0">4</tspan></text>
</g>
<text transform="translate(420.00 187.60) rotate(0.1)" text-anchor="middle" font-size="10.00" font-family="Liberation Sans, sans-serif" fill="#111" stroke="#111" stroke-width="0.13"><tspan font-style="italic" font-size="10.9">α</tspan>&lt;1</text>
<rect x="615.5" y="273.35" width="52.2" height="56.1" fill="#f3f3f3" stroke="#a8a8a8" stroke-width="1.0"/>
<rect x="648.6" y="283.60" width="9.2" height="9.2" fill="#f9f9f9"/>
<rect x="649.45" y="284.45" width="7.6" height="7.6" fill="#1a80ff" stroke="#1560c0" stroke-width="0.8"/>
<text transform="translate(624.30 289.70) rotate(0.1)" text-anchor="start" font-size="10.60" font-family="Liberation Sans, sans-serif" fill="#111" stroke="#111" stroke-width="0.13">d=1</text>
<rect x="648.6" y="297.85" width="9.2" height="9.2" fill="#f9f9f9"/>
<rect x="649.45" y="298.70" width="7.6" height="7.6" fill="#14800e" stroke="#0a560a" stroke-width="0.8"/>
<text transform="translate(624.30 303.95) rotate(0.1)" text-anchor="start" font-size="10.60" font-family="Liberation Sans, sans-serif" fill="#111" stroke="#111" stroke-width="0.13">d=2</text>
<rect x="648.6" y="312.10" width="9.2" height="9.2" fill="#f9f9f9"/>
<rect x="649.45" y="312.95" width="7.6" height="7.6" fill="#ff8010" stroke="#c46008" stroke-width="0.8"/>
<text transform="translate(624.30 318.20) rotate(0.1)" text-anchor="start" font-size="10.60" font-family="Liberation Sans, sans-serif" fill="#111" stroke="#111" stroke-width="0.13">d=3</text>
</svg>
</body></html>
